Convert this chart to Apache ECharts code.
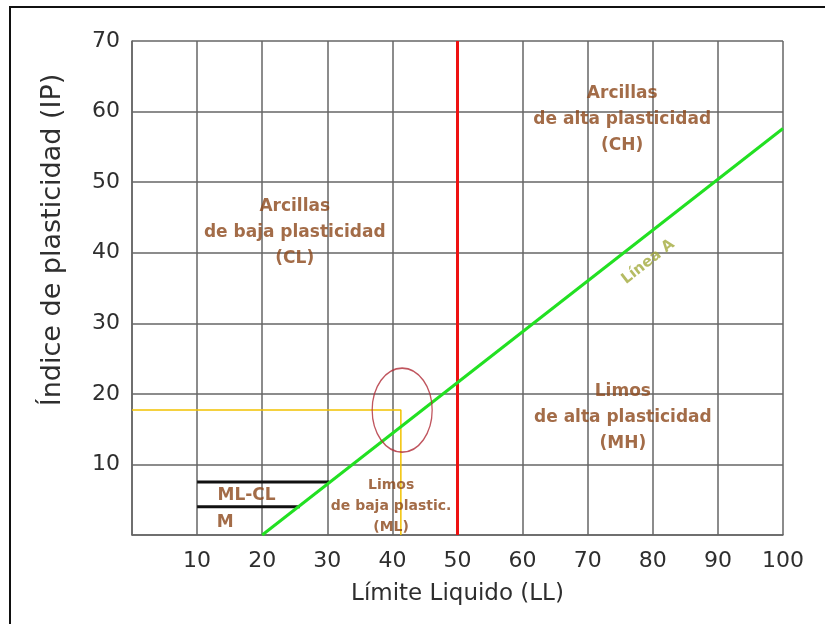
<!DOCTYPE html>
<html>
<head>
<meta charset="utf-8">
<script src="https://cdn.jsdelivr.net/npm/echarts@6/dist/echarts.min.js"></script>
<style>
  html, body { margin: 0; padding: 0; background: #fff; }
  #chart { width: 825px; height: 624px; }
</style>
</head>
<body>
<div id="chart"></div>
<script>
const xTicks = [0, 10, 20, 30, 40, 50, 60, 70, 80, 90, 100];
const yTicks = [0, 10, 20, 30, 40, 50, 60, 70];
const lineaA = [[20, 0], [100, 57.6]];
const limite50 = [[50, 0], [50, 70]];
const lineaMLCL = [[10, 7.5], [30.3, 7.5]];
const lineaM = [[10, 4], [25.8, 4]];
const muestra = [[0, 17.7], [41.3, 17.7], [41.3, 0]];
const circulo = [[41.5, 17.7]];
const zonas = [
  { name: "Arcillas\nde baja plasticidad\n(CL)", value: [25, 42.9] },
  { name: "Arcillas\nde alta plasticidad\n(CH)", value: [75.3, 58.8] },
  { name: "Limos\nde alta plasticidad\n(MH)", value: [75.4, 16.7] },
  { name: "ML-CL", value: [17.6, 5.6] },
  { name: "M", value: [14.3, 1.8] }
];
const zonaML = [{ name: "Limos\nde baja plastic.\n(ML)", value: [39.8, 4.1] }];
const etiquetaA = [{ name: "Línea A", value: [79.3, 38.7] }];

const chart = echarts.init(document.getElementById("chart"));

const brown = "#8c471a";
const gridColor = "#666";

const option = {
  backgroundColor: "#fff",
  animation: false,
  textStyle: { fontFamily: "DejaVu Sans" },
  grid: { left: 132, right: 42, top: 41, bottom: 89 },
  xAxis: {
    type: "value",
    min: xTicks[0],
    max: xTicks[xTicks.length - 1],
    interval: 10,
    name: "Límite Liquido (LL)",
    nameLocation: "middle",
    nameGap: 48,
    nameTextStyle: { fontSize: 23, color: "#2e2e2e" },
    axisLine: { show: true, lineStyle: { color: gridColor, width: 1.5 } },
    axisTick: { show: false },
    axisLabel: {
      fontSize: 22,
      color: "#2e2e2e",
      margin: 15,
      formatter: (v) => (v === 0 ? "" : v)
    },
    splitLine: { show: true, lineStyle: { color: gridColor, width: 1.5 } }
  },
  yAxis: {
    type: "value",
    min: yTicks[0],
    max: yTicks[yTicks.length - 1],
    interval: 10,
    axisLine: { show: true, lineStyle: { color: gridColor, width: 1.5 } },
    axisTick: { show: false },
    axisLabel: {
      fontSize: 22,
      color: "#2e2e2e",
      margin: 12,
      formatter: (v) => (v === 0 ? "" : v)
    },
    splitLine: { show: true, lineStyle: { color: gridColor, width: 1.5 } }
  },
  graphic: [
    {
      type: "rect",
      shape: { x: 10, y: 7, width: 900, height: 700 },
      style: { fill: "none", stroke: "#111", lineWidth: 2 },
      silent: true
    },
    {
      type: "text",
      x: 53,
      y: 240,
      rotation: Math.PI / 2,
      style: {
        text: "Índice de plasticidad (IP)",
        fontSize: 27,
        fontFamily: "DejaVu Sans",
        fill: "#2e2e2e",
        align: "center",
        verticalAlign: "middle"
      }
    }
  ],
  series: [
    {
      name: "muestra",
      type: "line",
      data: muestra,
      showSymbol: false,
      lineStyle: { color: "#f2c200", width: 1.5 },
      z: 2
    },
    {
      name: "ML-CL",
      type: "line",
      data: lineaMLCL,
      showSymbol: false,
      lineStyle: { color: "#111", width: 3 },
      z: 3
    },
    {
      name: "M",
      type: "line",
      data: lineaM,
      showSymbol: false,
      lineStyle: { color: "#111", width: 3 },
      z: 3
    },
    {
      name: "LL 50",
      type: "line",
      data: limite50,
      showSymbol: false,
      lineStyle: { color: "#ee1111", width: 3 },
      z: 4
    },
    {
      name: "Línea A",
      type: "line",
      data: lineaA,
      showSymbol: false,
      lineStyle: { color: "#22e022", width: 3 },
      z: 5
    },
    {
      name: "circulo",
      type: "scatter",
      data: circulo,
      symbol: "circle",
      symbolSize: [60, 84],
      itemStyle: { color: "rgba(0,0,0,0)", borderColor: "#b02a36", borderWidth: 1.5 },
      z: 6
    },
    {
      name: "zonas",
      type: "scatter",
      data: zonas,
      symbolSize: 0,
      label: {
        show: true,
        position: "inside",
        formatter: "{b}",
        fontSize: 17,
        fontWeight: "bold",
        lineHeight: 26,
        color: brown,
        align: "center"
      },
      z: 7
    },
    {
      name: "zonaML",
      type: "scatter",
      data: zonaML,
      symbolSize: 0,
      label: {
        show: true,
        position: "inside",
        formatter: "{b}",
        fontSize: 14,
        fontWeight: "bold",
        lineHeight: 21,
        color: brown,
        align: "center"
      },
      z: 7
    },
    {
      name: "etiquetaA",
      type: "scatter",
      data: etiquetaA,
      symbolSize: 0,
      label: {
        show: true,
        position: "inside",
        formatter: "{b}",
        rotate: 38,
        fontSize: 15,
        fontWeight: "bold",
        color: "#a3aa3c"
      },
      z: 7
    }
  ]
};

chart.setOption(option);
</script>
</body>
</html>
